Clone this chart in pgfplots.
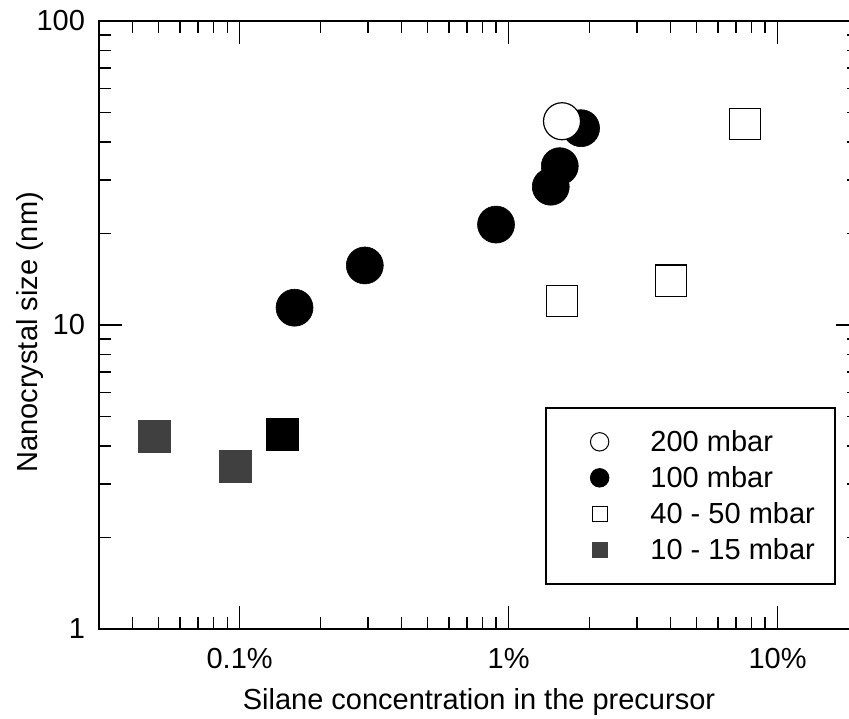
\documentclass[border=0pt]{standalone}
\usepackage{pgfplots}
\pgfplotsset{compat=1.18}
\usepackage{fontspec}
\setmainfont{Liberation Sans}
\definecolor{darkgr}{HTML}{404040}
\begin{document}
\fontsize{14.5pt}{17pt}\selectfont
\begin{tikzpicture}
\useasboundingbox (-49.5pt,-44.5pt) rectangle (375pt,314.5pt);
\begin{axis}[
  scale only axis, width=379.75pt, height=304pt,
  xmode=log, ymode=log,
  xmin=0.03, xmax=20, ymin=1, ymax=100,
  xtick={0.1,1,10}, xticklabels={0.1\%,1\%,10\%},
  minor xtick={0.04,0.05,0.06,0.07,0.08,0.09,0.2,0.3,0.4,0.5,0.6,0.7,0.8,0.9,2,3,4,5,6,7,8,9},
  ytick={1,10,100}, yticklabels={1,10,100},
  minor ytick={2,3,4,5,6,7,8,9,20,30,40,50,60,70,80,90},
  tick align=inside, major tick length=11.5pt, minor tick length=6pt,
  every tick/.style={black, line width=0.8pt},
  axis line style={line width=1.1pt},
  xticklabel style={yshift=-4.7pt},
  yticklabel style={xshift=-2pt},
  xlabel={Silane concentration in the precursor},
  ylabel={Nanocrystal size (nm)},
  xlabel style={at={(axis description cs:0.5003,-0.1316)}, anchor=base},
  ylabel style={at={(axis description cs:-0.0816,0.488)}, anchor=base},
  legend cell align=left,
  legend style={at={(0.5873,0.3651)}, anchor=north west, draw=black, line width=0.8pt,
    inner xsep=10pt, inner ysep=12pt, row sep=8pt, column sep=11.5pt,
    nodes={inner sep=0pt, text height=10pt, text depth=0pt}},
  legend image code/.code={\path (0pt,0pt) (30pt,0pt); \draw[#1] plot coordinates {(16.5pt,0pt)};},
]
\addlegendimage{only marks, mark=*, mark size=4.6pt, mark options={fill=white, draw=black, line width=0.5pt}}
\addlegendentry{200 mbar}
\addlegendimage{only marks, mark=*, mark size=4.6pt, mark options={fill=black, draw=black, line width=0.5pt}}
\addlegendentry{100 mbar}
\addlegendimage{only marks, mark=square*, mark size=3.75pt, mark options={fill=white, draw=black, line width=0.5pt}}
\addlegendentry{40 - 50 mbar}
\addlegendimage{only marks, mark=square*, mark size=3.75pt, mark options={fill=darkgr, draw=darkgr, line width=0.5pt}}
\addlegendentry{10 - 15 mbar}

% 10 - 15 mbar
\addplot[only marks, mark=square*, mark size=8pt, mark options={fill=darkgr, draw=darkgr, line width=0.3pt}, forget plot]
  coordinates {(0.0482,4.30) (0.0966,3.44)};
% black square
\addplot[only marks, mark=square*, mark size=8pt, mark options={fill=black, draw=black, line width=0.3pt}, forget plot]
  coordinates {(0.1435,4.38)};
% 40 - 50 mbar
\addplot[only marks, mark=square*, mark size=7.8pt, mark options={fill=white, draw=black, line width=0.6pt}, forget plot]
  coordinates {(7.57,45.8) (4.01,14.0) (1.58,12.0)};
% 100 mbar
\addplot[only marks, mark=*, mark size=9.25pt, mark options={fill=black, draw=black, line width=0.3pt}, forget plot]
  coordinates {(1.86,44.4) (1.55,33.3) (1.435,28.5) (0.898,21.4) (0.292,15.7) (0.160,11.4)};
% 200 mbar
\addplot[only marks, mark=*, mark size=9.25pt, mark options={fill=white, draw=black, line width=0.6pt}, forget plot]
  coordinates {(1.58,46.8)};
\end{axis}
\end{tikzpicture}
\end{document}
